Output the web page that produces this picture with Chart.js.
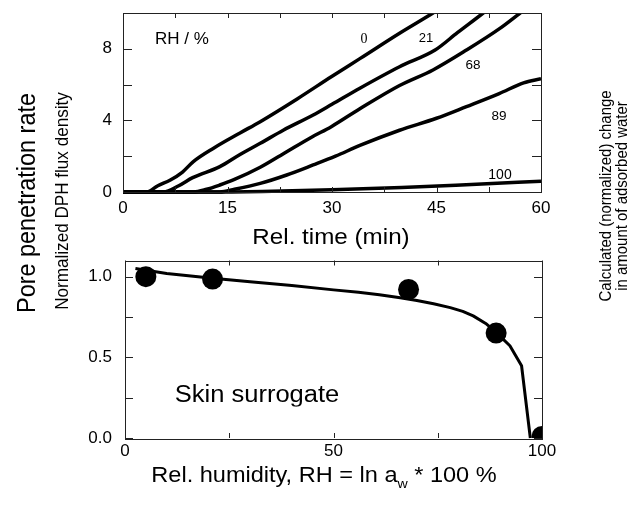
<!DOCTYPE html>
<html><head><meta charset="utf-8">
<script src="https://cdn.jsdelivr.net/npm/chart.js@4.4.1/dist/chart.umd.min.js"></script>
<style>
html,body{margin:0;padding:0;background:#fff;}
#wrap{position:relative;width:634px;height:509px;overflow:hidden;font-family:"Liberation Sans",Arial,sans-serif;color:#000;}
canvas{position:absolute;left:0;}
.t{position:absolute;white-space:nowrap;line-height:1;transform-origin:50% 50%;}
.t sub{font-size:0.6em;line-height:0;vertical-align:-0.45em;}
</style></head><body>
<div id="wrap">
<canvas id="topChart" width="634" height="250" style="top:0"></canvas>
<canvas id="botChart" width="634" height="259" style="top:250px"></canvas>
<div class="t" style="left:26px;top:203px;font-size:26px;transform:translate(-50%,-50%) rotate(-90deg) scaleX(0.9)">Pore penetration rate</div>
<div class="t" style="left:61px;top:201px;font-size:19px;transform:translate(-50%,-50%) rotate(-90deg) scaleX(0.9)">Normalized DPH flux density</div>
<div class="t" style="left:605px;top:196px;font-size:17px;transform:translate(-50%,-50%) rotate(-90deg) scaleX(0.88)">Calculated (normalized) change</div>
<div class="t" style="left:621px;top:196px;font-size:17px;transform:translate(-50%,-50%) rotate(-90deg) scaleX(0.88)">in amount of adsorbed water</div>
<div class="t" style="left:331px;top:237px;font-size:22px;transform:translate(-50%,-50%) scaleX(1.1)">Rel. time (min)</div>
<div class="t" style="left:324px;top:475px;font-size:22px;transform:translate(-50%,-50%) scaleX(1.07)">Rel. humidity, RH = ln a<sub>w</sub> * 100 %</div>
<div class="t" style="left:257px;top:394px;font-size:23px;transform:translate(-50%,-50%) scaleX(1.11)">Skin surrogate</div>
<div class="t" style="left:182px;top:38px;font-size:17px;transform:translate(-50%,-50%)">RH / %</div>
<div class="t" style="left:364px;top:39px;font-size:14px;font-family:'Liberation Serif','Times New Roman',serif;transform:translate(-50%,-50%)">0</div>
<div class="t" style="left:426px;top:37px;font-size:13px;transform:translate(-50%,-50%)">21</div>
<div class="t" style="left:473px;top:65px;font-size:13.5px;transform:translate(-50%,-50%)">68</div>
<div class="t" style="left:499px;top:116px;font-size:13.5px;transform:translate(-50%,-50%)">89</div>
<div class="t" style="left:500px;top:174px;font-size:14px;transform:translate(-50%,-50%)">100</div>
</div>
<script>
// ---- data: top panel (normalized DPH flux density vs rel. time, min) ----
const time0   = [0, 3.4, 5.0, 6.8, 8.5, 10.1, 13.0, 16.8, 19.7, 25.0, 29.9, 34.0, 39.7, 44.5, 45.5];
const flux0   = [0, 0, 0.35, 0.67, 1.1, 1.7, 2.45, 3.3, 3.93, 5.2, 6.44, 7.45, 8.87, 10.0, 10.25];
const time21  = [0, 5.8, 8.0, 10.0, 13.9, 16.8, 19.7, 23.0, 27.3, 30.0, 34.0, 39.7, 44.8, 48.0, 51.7, 52.5];
const flux21  = [0, 0, 0.35, 0.8, 1.42, 2.1, 2.72, 3.45, 4.3, 4.9, 5.8, 7.0, 7.93, 8.9, 10.0, 10.25];
const time68  = [0, 10.1, 12.0, 13.9, 16.0, 19.7, 23.5, 27.0, 29.9, 34.0, 39.7, 44.5, 49.3, 54.1, 57.0, 57.8];
const flux68  = [0, 0, 0.15, 0.39, 0.7, 1.38, 2.25, 3.05, 3.65, 4.65, 5.95, 6.82, 7.93, 9.14, 10.0, 10.25];
const time89  = [0, 13.9, 16.0, 19.7, 23.5, 27.3, 30.5, 34.0, 39.7, 45.0, 49.3, 54.0, 57.5, 60.0];
const flux89  = [0, 0, 0.15, 0.48, 0.95, 1.51, 2.0, 2.6, 3.45, 4.12, 4.77, 5.5, 6.1, 6.33];
const time100 = [0, 12, 20, 30, 40, 50, 60];
const flux100 = [0, 0, 0.03, 0.12, 0.25, 0.42, 0.6];
const timeTicks = [0, 15, 30, 45, 60];
const fluxTicks = [0, 4, 8];

// ---- data: bottom panel (pore penetration rate vs RH) ----
const rhMeas   = [5, 21, 68, 89, 100];
const rateMeas = [1.0, 0.985, 0.92, 0.65, 0.01];
const rhFit    = [2.5, 10, 21, 30, 40, 50, 56, 61, 66, 70, 74, 78, 81, 83.5, 86.5, 89, 92.3, 95.1, 97.2];
const rateFit  = [1.05, 1.02, 0.99, 0.968, 0.945, 0.918, 0.903, 0.888, 0.869, 0.852, 0.832, 0.808, 0.785, 0.757, 0.71, 0.655, 0.572, 0.448, 0.0];
const rhTicks   = [0, 50, 100];
const rateTicks = [0, 0.5, 1.0];

const pts = (xs, ys) => xs.map((x, i) => ({x, y: ys[i]}));
Chart.defaults.font.family = "'Liberation Sans', Arial, sans-serif";
Chart.defaults.color = '#000';

const boxTicks = {
  id: 'boxTicks',
  afterDraw(chart, args, o) {
    const {ctx, chartArea: a, scales: {x, y}} = chart;
    ctx.save();
    ctx.strokeStyle = '#222';
    ctx.lineWidth = 1;
    ctx.beginPath();
    x.ticks.forEach(t => {
      const p = Math.round(x.getPixelForValue(t.value)) + 0.5;
      ctx.moveTo(p, a.bottom); ctx.lineTo(p, a.bottom - o.xLen);
      ctx.moveTo(p, a.top); ctx.lineTo(p, a.top + o.xLen);
    });
    y.ticks.forEach(t => {
      const p = Math.round(y.getPixelForValue(t.value)) + 0.5;
      ctx.moveTo(a.left, p); ctx.lineTo(a.left + o.yLen, p);
      ctx.moveTo(a.right, p); ctx.lineTo(a.right - o.yLen, p);
    });
    ctx.stroke();
    ctx.strokeRect(Math.round(a.left) + 0.5, Math.round(a.top) + 0.5,
                   Math.round(a.right - a.left), Math.round(a.bottom - a.top));
    ctx.restore();
  }
};

function curve(xs, ys, w) {
  return {data: pts(xs, ys), borderColor: '#000', borderWidth: w, pointRadius: 0,
          cubicInterpolationMode: 'monotone', clip: {left: 2, top: 0, right: 0, bottom: 3}};
}
const fitX = h => s => { s.height = h; s.paddingLeft = 0; s.paddingRight = 0; };
const fitY = w => s => { s.width = w; s.paddingTop = 0; s.paddingBottom = 0; };

new Chart(document.getElementById('topChart'), {
  type: 'line',
  data: {datasets: [
    curve(time0, flux0, 3.5), curve(time21, flux21, 3.5), curve(time68, flux68, 3.5),
    curve(time89, flux89, 3.5), curve(time100, flux100, 3.5)
  ]},
  options: {
    responsive: false, animation: false,
    layout: {padding: {left: 0, top: 13, right: 93, bottom: 0}},
    plugins: {legend: {display: false}, tooltip: {enabled: false}, boxTicks: {xLen: 5, yLen: 9}},
    scales: {
      x: {type: 'linear', min: 0, max: 60,
          grid: {display: false, drawTicks: false}, border: {display: false},
          ticks: {stepSize: 7.5, autoSkip: false, maxRotation: 0, includeBounds: false, padding: 6,
                  font: {size: 17}, callback: v => timeTicks.includes(v) ? String(v) : ''},
          afterFit: fitX(58)},
      y: {min: 0, max: 10,
          grid: {display: false, drawTicks: false}, border: {display: false},
          ticks: {stepSize: 2, autoSkip: false, includeBounds: false, padding: 11,
                  font: {size: 17}, callback: v => fluxTicks.includes(v) ? String(v) : ''},
          afterFit: fitY(123)}
    }
  },
  plugins: [boxTicks]
});

new Chart(document.getElementById('botChart'), {
  type: 'line',
  data: {datasets: [
    {data: pts(rhFit, rateFit), borderColor: '#000', borderWidth: 3, pointRadius: 0, tension: 0,
     borderJoinStyle: 'round', clip: {left: 2, top: 0, right: 0, bottom: 2}},
    {data: pts(rhMeas, rateMeas), showLine: false, pointRadius: 10.5, pointBackgroundColor: '#000',
     pointBorderColor: '#000', pointBorderWidth: 0, clip: 0}
  ]},
  options: {
    responsive: false, animation: false,
    layout: {padding: {left: 0, top: 9, right: 92, bottom: 0}},
    plugins: {legend: {display: false}, tooltip: {enabled: false}, boxTicks: {xLen: 5, yLen: 8}},
    scales: {
      x: {type: 'linear', min: 0, max: 100,
          grid: {display: false, drawTicks: false}, border: {display: false},
          ticks: {stepSize: 25, autoSkip: false, maxRotation: 0, includeBounds: false, padding: 3,
                  font: {size: 17}, callback: v => rhTicks.includes(v) ? String(v) : ''},
          afterFit: fitX(71)},
      y: {min: 0, max: 1.1,
          grid: {display: false, drawTicks: false}, border: {display: false},
          ticks: {stepSize: 0.25, autoSkip: false, includeBounds: false, padding: 13,
                  font: {size: 17}, callback: v => rateTicks.includes(v) ? v.toFixed(1) : ''},
          afterFit: fitY(125)}
    }
  },
  plugins: [boxTicks]
});
</script>
</body></html>
